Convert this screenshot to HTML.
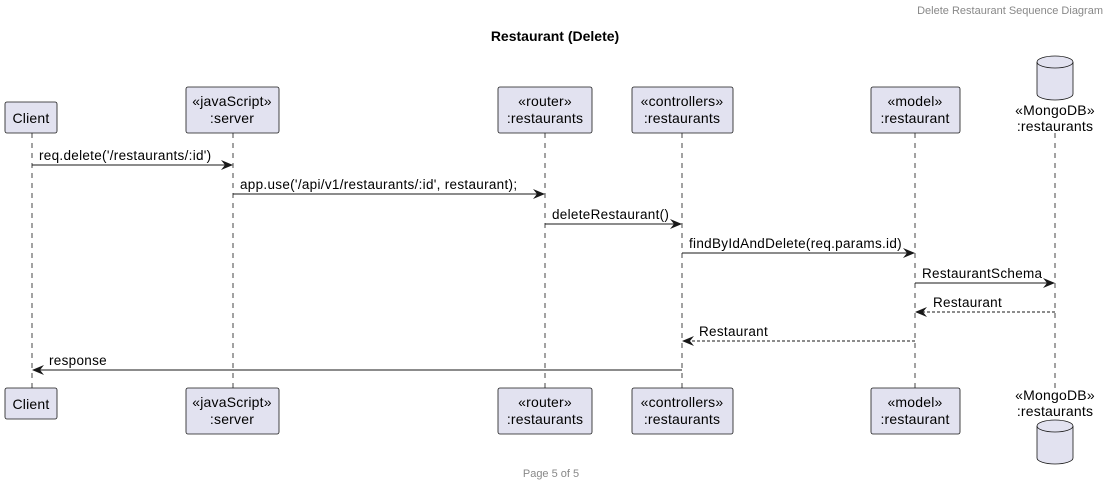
<!DOCTYPE html>
<html><head><meta charset="utf-8"><style>
html,body{margin:0;padding:0;background:#fff;}
svg{display:block;font-family:"Liberation Sans",sans-serif;}
</style></head><body>
<svg width="1110" height="486" viewBox="0 0 1110 486" xmlns="http://www.w3.org/2000/svg">
<defs>
<marker id="a" viewBox="0 0 12 10" refX="11" refY="5" markerWidth="12" markerHeight="10" markerUnits="userSpaceOnUse" orient="auto">
<path d="M0,0 L12,5 L0,10 L4,5 Z" fill="#181818"/></marker>
</defs>
<text x="1103" y="14" font-size="11" fill="#888" text-anchor="end">Delete Restaurant Sequence Diagram</text>
<text x="555" y="41" font-size="14" font-weight="bold" text-anchor="middle" fill="#000">Restaurant (Delete)</text>
<g stroke="#181818" stroke-width="0.8" stroke-dasharray="5,5">
<line x1="32" y1="133" x2="32" y2="388"/>
<line x1="233" y1="133" x2="233" y2="388"/>
<line x1="545" y1="133" x2="545" y2="388"/>
<line x1="682" y1="133" x2="682" y2="388"/>
<line x1="915" y1="133" x2="915" y2="388"/>
<line x1="1055" y1="133" x2="1055" y2="388"/>
</g>
<g fill="#E2E2F0" stroke="#181818" stroke-width="0.8">
<rect x="5" y="102" width="52" height="31" rx="2"/>
<rect x="186" y="87" width="93" height="46" rx="2"/>
<rect x="498" y="87" width="94" height="46" rx="2"/>
<rect x="632" y="87" width="101" height="46" rx="2"/>
<rect x="871" y="87" width="89" height="46" rx="2"/>
<rect x="5" y="388" width="52" height="31" rx="2"/>
<rect x="186" y="388" width="93" height="46" rx="2"/>
<rect x="498" y="388" width="94" height="46" rx="2"/>
<rect x="632" y="388" width="101" height="46" rx="2"/>
<rect x="871" y="388" width="89" height="46" rx="2"/>
<path d="M1037,62 A18,6 0 0 1 1073,62 L1073,94 A18,6 0 0 1 1037,94 Z"/>
<path d="M1037,62 A18,6 0 0 0 1073,62" fill="none"/>
<path d="M1037,426 A18,6 0 0 1 1073,426 L1073,458 A18,6 0 0 1 1037,458 Z"/>
<path d="M1037,426 A18,6 0 0 0 1073,426" fill="none"/>
</g>
<g font-size="14" fill="#000" text-anchor="middle" letter-spacing="0.2">
<text x="31" y="123">Client</text>
<text x="232" y="106">«javaScript»</text><text x="232" y="123">:server</text>
<text x="545" y="106">«router»</text><text x="545" y="123">:restaurants</text>
<text x="682" y="106">«controllers»</text><text x="682" y="123">:restaurants</text>
<text x="915" y="106">«model»</text><text x="915" y="123">:restaurant</text>
<text x="1055" y="115">«MongoDB»</text><text x="1055" y="131">:restaurants</text>
<text x="31" y="409">Client</text>
<text x="232" y="407">«javaScript»</text><text x="232" y="424">:server</text>
<text x="545" y="407">«router»</text><text x="545" y="424">:restaurants</text>
<text x="682" y="407">«controllers»</text><text x="682" y="424">:restaurants</text>
<text x="915" y="407">«model»</text><text x="915" y="424">:restaurant</text>
<text x="1055" y="400">«MongoDB»</text><text x="1055" y="416">:restaurants</text>
</g>
<g stroke="#181818" stroke-width="1" fill="none">
<line x1="32" y1="165" x2="232" y2="165" marker-end="url(#a)"/>
<line x1="233" y1="194" x2="544" y2="194" marker-end="url(#a)"/>
<line x1="545" y1="224" x2="681" y2="224" marker-end="url(#a)"/>
<line x1="682" y1="253" x2="914" y2="253" marker-end="url(#a)"/>
<line x1="915" y1="283" x2="1054" y2="283" marker-end="url(#a)"/>
<line x1="1055" y1="312" x2="916" y2="312" stroke-dasharray="3,2" marker-end="url(#a)"/>
<line x1="915" y1="341" x2="683" y2="341" stroke-dasharray="3,2" marker-end="url(#a)"/>
<line x1="682" y1="370" x2="33" y2="370" marker-end="url(#a)"/>
</g>
<g font-size="13.5" fill="#000" letter-spacing="0.3">
<text x="39" y="160">req.delete('/restaurants/:id')</text>
<text x="240" y="189">app.use('/api/v1/restaurants/:id', restaurant);</text>
<text x="552" y="219">deleteRestaurant()</text>
<text x="689" y="248">findByIdAndDelete(req.params.id)</text>
<text x="922" y="278">RestaurantSchema</text>
<text x="933" y="307">Restaurant</text>
<text x="699" y="336">Restaurant</text>
<text x="49" y="365">response</text>
</g>
<text x="551" y="477" font-size="11" fill="#888" text-anchor="middle">Page 5 of 5</text>
</svg>
</body></html>
